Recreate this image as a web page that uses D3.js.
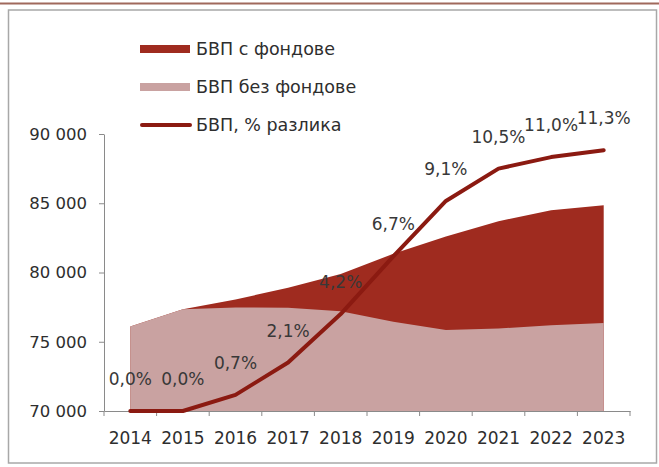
<!DOCTYPE html>
<html>
<head>
<meta charset="utf-8">
<script src="https://cdn.jsdelivr.net/npm/d3@7"></script>
<style>
  html, body { margin: 0; padding: 0; background: #ffffff; }
  svg { display: block; }
  text { font-family: "DejaVu Sans", Verdana, sans-serif; }
</style>
</head>
<body>
<svg id="chart" width="659" height="467"></svg>
<script>
// ---- Data ----
const years = ["2014", "2015", "2016", "2017", "2018", "2019", "2020", "2021", "2022", "2023"];
const gdpWithFunds = [76100, 77350, 78050, 78900, 79900, 81350, 82600, 83700, 84500, 84850];
const gdpWithoutFunds = [76100, 77350, 77480, 77450, 77200, 76450, 75850, 75950, 76200, 76350];
const pctDiff = [0.0, 0.0, 0.7, 2.1, 4.2, 6.7, 9.1, 10.5, 11.0, 11.3];
const yTicks = [70000, 75000, 80000, 85000, 90000];
const seriesNames = ["БВП с фондове", "БВП без фондове", "БВП, % разлика"];

// ---- Styles ----
const cDark = "#9f2b1f";
const cPink = "#c9a2a1";
const cLine = "#8b1a11";
const cAxis = "#8a8a8a";
const cText = "#2e2e2e";

const svg = d3.select("#chart");

// Frame
svg.append("line").attr("x1", 0).attr("x2", 659).attr("y1", 3.5).attr("y2", 3.5)
  .attr("stroke", "#a0695c").attr("stroke-width", 2);
svg.append("rect").attr("x", 8.5).attr("y", 10).attr("width", 648).attr("height", 453)
  .attr("fill", "#ffffff").attr("stroke", "#a8a8a8").attr("stroke-width", 1.5);

// Scales
const x = d3.scaleBand().domain(years).range([104, 630]);
const cx = d => x(d) + x.bandwidth() / 2;
const y = d3.scaleLinear().domain([70000, 90000]).range([411, 134]);
const y2 = d3.scaleLinear().domain([0, 12]).range([411, 134]);

// Areas
const area = vals => d3.area()
  .x((d, i) => cx(years[i]))
  .y0(y(70000))
  .y1((d) => y(d))(vals);

svg.append("path").attr("d", area(gdpWithFunds)).attr("fill", cDark);
svg.append("path").attr("d", area(gdpWithoutFunds)).attr("fill", cPink);

// Y axis
const yAxis = svg.append("g").attr("transform", "translate(104,0)")
  .call(d3.axisLeft(y).tickValues(yTicks).tickSize(5).tickSizeOuter(0).tickPadding(12)
    .tickFormat(d => d3.format(",")(d).replace(",", " ")));
yAxis.select(".domain").attr("stroke", cAxis);
yAxis.selectAll(".tick line").attr("stroke", cAxis);
yAxis.selectAll(".tick text").attr("fill", cText).style("font-size", "16.5px")
  .style("font-family", "DejaVu Sans");

// X axis
const xAxis = svg.append("g").attr("transform", "translate(0,411)")
  .call(d3.axisBottom(x).tickSize(0).tickSizeOuter(0).tickPadding(21));
xAxis.select(".domain").attr("stroke", cAxis);
xAxis.selectAll(".tick text").attr("fill", cText).style("font-size", "17px")
  .style("font-family", "DejaVu Sans");
const bounds = years.map(d => x(d)).concat([x.range()[1]]);
xAxis.selectAll(".bound").data(bounds).enter().append("line")
  .attr("class", "bound")
  .attr("x1", d => d).attr("x2", d => d).attr("y1", 0).attr("y2", 5)
  .attr("stroke", cAxis);

// Line (secondary axis)
const line = d3.line().x((d, i) => cx(years[i])).y(d => y2(d));
svg.append("path").attr("d", line(pctDiff)).attr("fill", "none")
  .attr("stroke", cLine).attr("stroke-width", 4)
  .attr("stroke-linejoin", "round").attr("stroke-linecap", "round");

// Data labels
svg.selectAll(".dlabel").data(pctDiff).enter().append("text")
  .attr("class", "dlabel")
  .attr("x", (d, i) => cx(years[i]))
  .attr("y", d => y2(d) - 26)
  .attr("text-anchor", "middle")
  .attr("fill", "#383838")
  .style("font-size", "17px")
  .text(d => d3.format(".1f")(d).replace(".", ",") + "%");

// Legend
const lg = svg.append("g");
const legY = [49, 87, 125];
lg.append("rect").attr("x", 140).attr("y", legY[0] - 4).attr("width", 50).attr("height", 8).attr("fill", cDark);
lg.append("rect").attr("x", 140).attr("y", legY[1] - 4).attr("width", 50).attr("height", 8).attr("fill", cPink);
lg.append("line").attr("x1", 142).attr("x2", 190).attr("y1", legY[2]).attr("y2", legY[2])
  .attr("stroke", cLine).attr("stroke-width", 4).attr("stroke-linecap", "round");
lg.selectAll(".ltext").data(seriesNames).enter().append("text")
  .attr("class", "ltext")
  .attr("x", 196)
  .attr("y", (d, i) => legY[i] + 6)
  .attr("fill", cText)
  .style("font-size", "17.5px")
  .text(d => d);
</script>
</body>
</html>
